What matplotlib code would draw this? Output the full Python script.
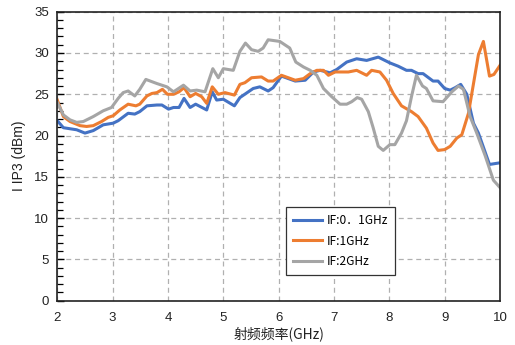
import matplotlib
matplotlib.use("Agg")
import matplotlib.pyplot as plt
from matplotlib.ticker import MultipleLocator

# IIP3 versus RF frequency for three IF settings
freq_if01 = [2.0, 2.11, 2.35, 2.5, 2.65, 2.83, 3.01, 3.10, 3.28, 3.40, 3.49, 3.62, 3.80, 3.89,
             4.01, 4.10, 4.20, 4.29, 4.40, 4.50, 4.70, 4.80, 4.88, 5.00, 5.20, 5.30, 5.54,
             5.66, 5.81, 5.90, 6.05, 6.30, 6.48, 6.63, 6.75, 6.93, 7.05, 7.23, 7.41, 7.59,
             7.80, 8.01, 8.16, 8.31, 8.40, 8.52, 8.61, 8.79, 8.88, 9.0, 9.10, 9.19, 9.29,
             9.40, 9.52, 9.61, 9.81, 10.0]
iip3_if01 = [21.8, 20.95, 20.7, 20.3, 20.6, 21.3, 21.5, 21.8, 22.7, 22.6, 22.9, 23.6, 23.7, 23.7,
             23.2, 23.4, 23.4, 24.5, 23.4, 23.8, 23.1, 25.3, 24.3, 24.4, 23.6, 24.6, 25.7,
             25.9, 25.4, 25.8, 27.2, 26.6, 26.7, 27.7, 27.9, 27.6, 28.0, 28.9, 29.3, 29.1,
             29.5, 28.8, 28.4, 27.9, 27.9, 27.5, 27.5, 26.6, 26.6, 25.7, 25.5, 25.8, 26.2,
             25.0, 21.5, 20.3, 16.5, 16.7]

freq_if1 = [2.0, 2.11, 2.23, 2.41, 2.53, 2.65, 2.80, 2.92, 3.01, 3.13, 3.28, 3.42, 3.49, 3.62,
            3.71, 3.80, 3.90, 3.99, 4.10, 4.20, 4.29, 4.40, 4.50, 4.61, 4.70, 4.80, 4.91,
            5.03, 5.20, 5.30, 5.39, 5.51, 5.69, 5.81, 5.90, 6.05, 6.30, 6.45, 6.57, 6.69,
            6.81, 6.90, 7.02, 7.26, 7.41, 7.59, 7.68, 7.83, 7.95, 8.07, 8.22, 8.40, 8.52,
            8.67, 8.79, 8.88, 9.0, 9.10, 9.22, 9.31, 9.43, 9.61, 9.70, 9.81, 9.89, 10.0]
iip3_if1 = [24.3, 22.3, 21.7, 21.2, 21.1, 21.2, 21.7, 22.2, 22.4, 23.1, 23.8, 23.6, 23.8, 24.8,
            25.1, 25.2, 25.6, 25.0, 25.0, 25.3, 25.8, 24.7, 25.1, 24.7, 23.9, 25.9, 25.0,
            25.2, 24.9, 26.2, 26.4, 27.0, 27.1, 26.6, 26.6, 27.3, 26.7, 26.9, 27.5, 27.9,
            27.9, 27.3, 27.7, 27.7, 27.9, 27.3, 27.9, 27.7, 26.7, 25.1, 23.6, 22.9, 22.3,
            20.9, 19.1, 18.2, 18.3, 18.7, 19.7, 20.1, 22.7, 29.8, 31.4, 27.2, 27.4, 28.5]

freq_if2 = [2.0, 2.11, 2.23, 2.35, 2.47, 2.65, 2.83, 2.98, 3.10, 3.19, 3.28, 3.40, 3.49, 3.60,
            3.80, 3.98, 4.10, 4.19, 4.28, 4.40, 4.52, 4.67, 4.81, 4.91, 5.00, 5.18, 5.30,
            5.40, 5.51, 5.63, 5.72, 5.81, 6.02, 6.20, 6.31, 6.45, 6.57, 6.69, 6.81, 6.96,
            7.11, 7.23, 7.32, 7.42, 7.50, 7.62, 7.71, 7.80, 7.89, 8.01, 8.10, 8.22, 8.31,
            8.40, 8.49, 8.60, 8.67, 8.79, 8.97, 9.13, 9.25, 9.34, 9.46, 9.58, 9.73, 9.88, 10.0]
iip3_if2 = [24.0, 22.5, 21.9, 21.6, 21.7, 22.3, 23.0, 23.4, 24.5, 25.2, 25.4, 24.8, 25.6, 26.8,
            26.3, 25.9, 25.3, 25.7, 26.1, 25.4, 25.5, 25.3, 28.1, 27.0, 28.1, 27.9, 30.2,
            31.2, 30.4, 30.2, 30.6, 31.6, 31.4, 30.6, 28.9, 28.3, 27.9, 27.3, 25.7, 24.7,
            23.8, 23.8, 24.1, 24.6, 24.4, 22.9, 20.9, 18.7, 18.2, 18.9, 18.9, 20.3, 21.8,
            24.7, 27.3, 26.0, 25.7, 24.2, 24.1, 25.3, 26.0, 25.6, 22.3, 20.3, 17.6, 14.6, 13.7]

series_labels = ["IF:0．1GHz", "IF:1GHz", "IF:2GHz"]
series_colors = ["#4472C4", "#ED7D31", "#A5A5A5"]

x_ticks = [2, 3, 4, 5, 6, 7, 8, 9, 10]
y_ticks = [0, 5, 10, 15, 20, 25, 30, 35]

plt.rcParams['font.family'] = ['Liberation Sans', 'Noto Sans CJK SC', 'DejaVu Sans']

fig = plt.figure(figsize=(5.15, 3.45), dpi=100)
ax = fig.add_axes([57.3 / 515, 1 - 300.7 / 345, (500 - 57.3) / 515, (300.7 - 11.7) / 345])

for fx, fy, lab, col in zip([freq_if01, freq_if1, freq_if2],
                            [iip3_if01, iip3_if1, iip3_if2],
                            series_labels, series_colors):
    ax.plot(fx, fy, color=col, lw=2.2, label=lab, solid_joinstyle='round')

ax.set_xlim(2, 10)
ax.set_ylim(0, 35)
ax.set_xticks(x_ticks)
ax.set_yticks(y_ticks)
ax.yaxis.set_minor_locator(MultipleLocator(1))
ax.tick_params(axis='x', length=0, labelsize=9.5, pad=8, colors='#222222')
ax.tick_params(axis='y', which='major', direction='in', length=5, width=1,
               labelsize=9.5, pad=6, colors='black', labelcolor='#222222')
ax.tick_params(axis='y', which='minor', direction='in', length=4, width=0.9)
ax.grid(True, which='major', linestyle=(0, (4, 3)), color='#b0b0b0', lw=0.9)
ax.set_axisbelow(True)
for s in ax.spines.values():
    s.set_color('#222222')
    s.set_linewidth(1.2)

ax.set_xlabel("射频频率(GHz)", family=['Noto Sans CJK SC', 'DejaVu Sans'],
              fontsize=10, labelpad=2, color='#222222')
ax.set_ylabel("I IP3 (dBm)", fontsize=10, labelpad=6, color='#222222')

leg = ax.legend(loc='lower left', bbox_to_anchor=((285.7 - 57.3) / (500 - 57.3), (300.7 - 275) / 289),
                prop={'family': ['Noto Sans CJK SC', 'DejaVu Sans'], 'size': 8.6},
                frameon=True, fancybox=False, framealpha=1, edgecolor='#333333',
                handlelength=2.4, handletextpad=0.4, labelspacing=0.6, borderpad=0.6,
                borderaxespad=0)
leg.get_frame().set_linewidth(0.9)

fig.savefig("out.png", dpi=100)
